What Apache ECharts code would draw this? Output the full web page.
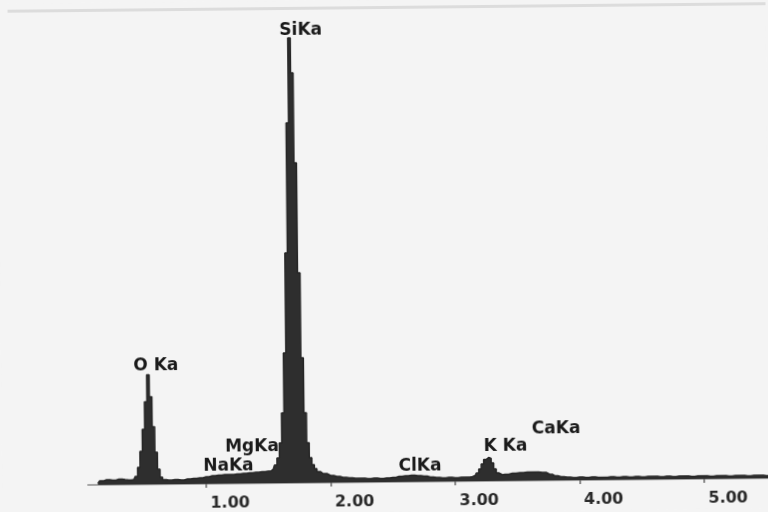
<!DOCTYPE html>
<html>
<head>
<meta charset="utf-8">
<script src="https://cdn.jsdelivr.net/npm/echarts@6/dist/echarts.min.js"></script>
<style>
html,body{margin:0;padding:0;background:#f4f4f4;overflow:hidden;}
#c{width:768px;height:512px;transform:rotate(-0.57deg);transform-origin:384px 256px;}
</style>
</head>
<body>
<div id="c"></div>
<script>
// Energy (keV) of each spectrum channel
const energy = [
  0.13,0.16,0.20,0.25,0.30,0.35,0.38,
  0.42,0.44,0.46,0.48,0.50,0.52,0.54,0.56,0.58,0.60,0.62,0.64,0.66,
  0.70,0.75,0.80,0.85,0.90,0.95,1.00,1.05,1.10,1.15,1.20,1.25,1.30,1.35,1.40,1.45,1.50,1.54,
  1.56,1.58,1.60,1.62,1.64,1.66,1.68,1.70,1.72,1.74,1.76,1.78,1.80,1.82,1.84,1.86,1.88,1.90,
  1.94,2.00,2.05,2.10,2.15,2.20,2.25,2.30,2.35,2.40,2.45,
  2.50,2.55,2.60,2.65,2.70,2.75,2.80,2.85,2.90,2.95,3.00,3.05,3.10,3.14,
  3.16,3.18,3.20,3.22,3.24,3.26,3.28,3.30,3.32,3.34,3.36,
  3.40,3.46,3.52,3.58,3.64,3.70,3.76,3.80,3.85,
  3.90,3.95,4.00,4.05,4.10,4.15,4.20,4.25,4.30,4.35,4.40,4.45,4.50,4.55,4.60,4.65,4.70,
  4.75,4.80,4.85,4.90,4.95,5.00,5.05,5.10,5.15,5.20,5.25,5.30,5.35,5.40,5.45,5.50,5.53
];
// Counts of each channel
const counts = [
  3,8,10,9,11,10,9,
  10,16,34,66,110,165,219,175,115,64,30,14,9,
  8,9,8,10,11,12,14,16,17,18,18,19,20,21,22,23,24,28,
  36,50,80,140,260,460,720,890,820,640,420,250,140,80,50,36,28,22,
  18,14,12,10,9,8,8,7,8,7,8,
  9,11,12,13,12,11,9,8,7,8,7,8,8,9,
  11,16,24,34,43,47,45,36,24,16,12,
  13,15,16,17,17,16,12,9,7,
  6,5,6,5,6,5,5,6,5,6,5,6,5,6,6,5,6,
  5,6,6,5,6,6,5,6,6,5,6,6,5,6,6,5,5
];
// Peak labels and their anchor (keV, counts)
const peakNames = ["SiKa","O Ka","MgKa","NaKa","ClKa","K Ka","CaKa"];
const peakE = [1.795, 0.605, 1.37, 1.18, 2.718, 3.406, 3.814];
const peakY = [904, 236, 72, 34, 30, 68, 102];
// Axis tick labels
const tickValues = [1, 2, 3, 4, 5];
const tickLabels = ["1.00","2.00","3.00","4.00","5.00"];

const chart = echarts.init(document.getElementById('c'), null, {renderer:'canvas'});
const font = '"DejaVu Sans", sans-serif';
chart.setOption({
  backgroundColor: '#f4f4f4',
  animation: false,
  graphic: [{
    type: 'rect', shape: {x: 10, y: 6, width: 770, height: 3},
    style: {fill: '#dcdcdc'}, silent: true, z: 0
  }],
  grid: {left: 85.7, right: 0, top: 20, bottom: 24.5},
  xAxis: {
    type: 'value', min: 0.05, max: 5.53,
    splitLine: {show: false},
    axisLine: {show: true, lineStyle: {color: '#8a8a8a', width: 1.5}},
    axisTick: {show: true, customValues: tickValues, length: 4, lineStyle: {color: '#666', width: 1.5}},
    axisLabel: {
      show: true, customValues: tickValues, align: 'left', margin: 6,
      padding: [0,0,0,4],
      fontFamily: font, fontWeight: 'bold', fontSize: 16, color: '#2a2a2a',
      formatter: v => tickLabels[tickValues.indexOf(v)]
    }
  },
  yAxis: {type: 'value', min: -11, max: 924, show: false},
  series: [
    {
      type: 'scatter', z: 1, symbolSize: 0, silent: true,
      itemStyle: {opacity: 1},
      data: peakNames.map((n, i) => ({value: [peakE[i], peakY[i]], name: n})),
      label: {
        show: true, position: 'inside', formatter: p => p.name,
        fontFamily: font, fontWeight: 'bold', fontSize: 17, color: '#1a1a1a'
      }
    },
    {
      type: 'line', z: 3, step: 'middle', showSymbol: false, silent: true,
      data: energy.map((e, i) => [e, counts[i]]),
      lineStyle: {color: '#262626', width: 1.5},
      areaStyle: {color: '#2e2e2e', opacity: 1}
    }
  ]
});
</script>
</body>
</html>
